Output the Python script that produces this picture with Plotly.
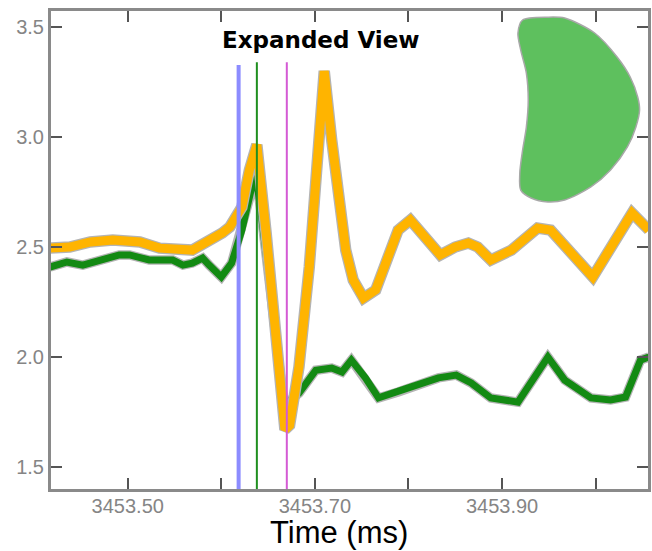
import plotly.graph_objects as go

# ---- data -------------------------------------------------------------
# orange trace (upper)
orange_t = [3453.417, 3453.438, 3453.460, 3453.484, 3453.513, 3453.534, 3453.569,
            3453.584, 3453.601, 3453.609, 3453.622, 3453.630, 3453.638, 3453.648,
            3453.659, 3453.668, 3453.673, 3453.683, 3453.694, 3453.699,
            3453.705, 3453.710, 3453.718, 3453.727, 3453.733, 3453.741,
            3453.752, 3453.765, 3453.779, 3453.789, 3453.802, 3453.818, 3453.834,
            3453.850, 3453.864, 3453.874, 3453.888, 3453.910, 3453.938, 3453.952,
            3453.997, 3454.039, 3454.057]
orange_v = [2.495, 2.500, 2.523, 2.532, 2.523, 2.495, 2.486,
            2.518, 2.564, 2.591, 2.682, 2.850, 2.965, 2.560,
            2.090, 1.670, 1.690, 1.955, 2.409, 2.714,
            3.077, 3.300, 2.986, 2.668, 2.486, 2.350,
            2.268, 2.305, 2.473, 2.577, 2.623, 2.545, 2.464,
            2.500, 2.518, 2.500, 2.441, 2.486, 2.586, 2.577,
            2.364, 2.655, 2.577]

# green trace (lower)
green_t = [3453.417, 3453.435, 3453.452, 3453.463, 3453.491, 3453.502, 3453.523,
           3453.548, 3453.559, 3453.569, 3453.580, 3453.587, 3453.600, 3453.611,
           3453.619, 3453.622, 3453.635, 3453.637, 3453.643, 3453.654, 3453.667,
           3453.683, 3453.701, 3453.718, 3453.729, 3453.739, 3453.754, 3453.768,
           3453.789, 3453.803, 3453.832, 3453.851, 3453.867, 3453.888, 3453.917,
           3453.949, 3453.967, 3453.995, 3454.016, 3454.032, 3454.048, 3454.057]
green_v = [2.409, 2.432, 2.418, 2.432, 2.464, 2.464, 2.441,
           2.441, 2.418, 2.427, 2.450, 2.418, 2.364, 2.427,
           2.555, 2.577, 2.818, 2.827, 2.640, 2.230, 1.780,
           1.836, 1.940, 1.950, 1.932, 1.986, 1.905, 1.814,
           1.841, 1.864, 1.905, 1.918, 1.882, 1.814, 1.795,
           2.000, 1.895, 1.814, 1.805, 1.818, 1.986, 2.000]

# event markers
marker_times = [3453.6185, 3453.638, 3453.670]
marker_tops = [3.327, 3.340, 3.340]
marker_colors = ["#8c8cff", "#1f8f1f", "#d45ad4"]
marker_widths = [4, 2, 2]

# inset outline (cross-section shape)
inset_t = [3453.917, 3453.922, 3453.949, 3453.967, 3453.999, 3454.023, 3454.037,
           3454.045, 3454.047, 3454.043, 3454.034, 3454.016, 3453.995, 3453.967,
           3453.949, 3453.931, 3453.920, 3453.919, 3453.922, 3453.926, 3453.928,
           3453.926, 3453.920, 3453.917]
inset_v = [3.473, 3.532, 3.545, 3.541, 3.473, 3.364, 3.273,
           3.182, 3.123, 3.045, 2.955, 2.850, 2.773, 2.714,
           2.705, 2.723, 2.759, 2.836, 2.941, 3.045, 3.168,
           3.291, 3.395, 3.473]

x_tick_vals = [3453.5, 3453.6, 3453.7, 3453.8, 3453.9, 3454.0]
x_tick_text = ["3453.50", "", "3453.70", "", "3453.90", ""]
y_tick_vals = [1.5, 2.0, 2.5, 3.0, 3.5]
y_tick_text = ["1.5", "2.0", "2.5", "3.0", "3.5"]

x_range = [3453.418, 3454.056]
y_range = [1.40, 3.573]

title_text = "Expanded View"
x_title = "Time (ms)"

# ---- figure -----------------------------------------------------------
fig = go.Figure()

# inset shape
fig.add_trace(go.Scatter(
    x=inset_t, y=inset_v, mode="lines", fill="toself",
    fillcolor="#5ec05e", line=dict(color="#a8a8a8", width=1.5, shape="spline", smoothing=0.8),
    hoverinfo="skip", showlegend=False))

# traces with a grey halo underneath
for t, v, col, w in [(green_t, green_v, "#138a13", 7), (orange_t, orange_v, "#ffb400", 9)]:
    fig.add_trace(go.Scatter(x=t, y=v, mode="lines",
                             line=dict(color="#b4b4b4", width=w + 2.5),
                             hoverinfo="skip", showlegend=False))
    fig.add_trace(go.Scatter(x=t, y=v, mode="lines",
                             line=dict(color=col, width=w),
                             showlegend=False))

# vertical event lines
for xt, top, col, w in zip(marker_times, marker_tops, marker_colors, marker_widths):
    fig.add_trace(go.Scatter(x=[xt, xt], y=[y_range[0], top], mode="lines",
                             line=dict(color=col, width=w),
                             hoverinfo="skip", showlegend=False))

fig.add_annotation(text=title_text, xref="paper", yref="paper",
                   x=0.452, y=0.939, xanchor="center", yanchor="middle",
                   showarrow=False,
                   font=dict(family="DejaVu Sans", size=23, color="black", weight="bold"))

# x-axis title, set slightly left of the plot centre
fig.add_annotation(text=x_title, xref="paper", yref="paper",
                   x=0.483, y=-0.092, xanchor="center", yanchor="middle",
                   showarrow=False,
                   font=dict(family="Liberation Sans", size=31, color="black"))

axis_common = dict(
    showline=True, linecolor="#8a8a8a", linewidth=3, mirror="ticks",
    ticks="inside", ticklen=11, tickwidth=2, tickcolor="#555555",
    showgrid=False, zeroline=False,
    tickfont=dict(family="Liberation Sans", size=20, color="#858585"),
)

fig.update_xaxes(range=x_range, tickvals=x_tick_vals, ticktext=x_tick_text,
                 ticklabelstandoff=-3, **axis_common)
fig.update_yaxes(range=y_range, tickvals=y_tick_vals, ticktext=y_tick_text,
                 **axis_common)

fig.update_layout(
    width=652, height=551,
    margin=dict(l=51, r=1, t=11, b=62, pad=0),
    plot_bgcolor="white", paper_bgcolor="white",
    showlegend=False,
)

fig.write_html("out.html")
